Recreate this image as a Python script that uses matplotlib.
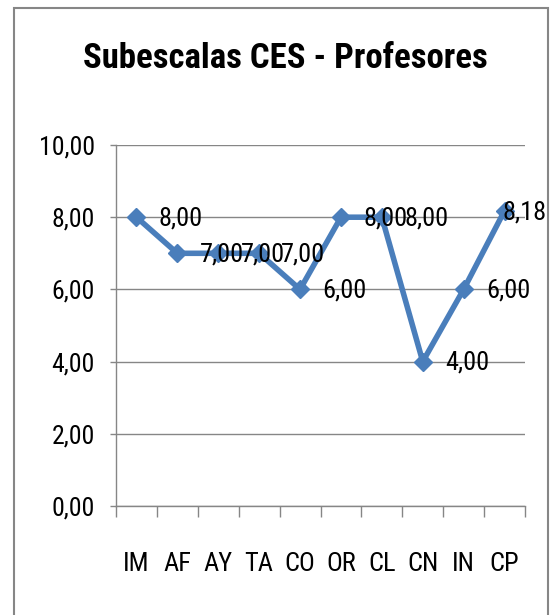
import numpy as np
import matplotlib
matplotlib.use('Agg')
import matplotlib.pyplot as plt
from matplotlib import font_manager
from matplotlib.patches import Rectangle

# data
categories = ['IM', 'AF', 'AY', 'TA', 'CO', 'OR', 'CL', 'CN', 'IN', 'CP']
values = [8.00, 7.00, 7.00, 7.00, 6.00, 8.00, 8.00, 4.00, 6.00, 8.18]
y_ticks = [0, 2, 4, 6, 8, 10]
title = 'Subescalas CES - Profesores'

# pick a narrow font if one is there
names = {f.name for f in font_manager.fontManager.ttflist}
font = 'DejaVu Sans'
for cand in ['Liberation Sans Narrow', 'Roboto Condensed', 'Open Sans Condensed']:
    if cand in names:
        font = cand
        break
plt.rcParams['font.family'] = [font, 'DejaVu Sans']

blue = '#4a7ebb'
gray = '#868686'

W, H = 553, 615
fig = plt.figure(figsize=(W / 100, H / 100), dpi=100)
ax = fig.add_axes([116 / W, 1 - 506 / H, (525 - 116) / W, (506 - 145) / H])

x = np.arange(len(categories))
ax.plot(x, values, color=blue, lw=4, marker='D', ms=9, mfc=blue, mec=blue,
        zorder=3, clip_on=False)

# data labels to the right of each point (last one pulled back inside the chart)
for i, v in enumerate(values):
    dx = 16 if i < len(values) - 1 else -1.5
    ax.annotate(f'{v:.2f}'.replace('.', ','), (x[i], v), xytext=(dx, -1),
                textcoords='offset points', ha='left', va='center',
                fontsize=19, color='black', zorder=4)

ax.set_xlim(-0.5, len(categories) - 0.5)
ax.set_ylim(0, 10)
ax.set_yticks(y_ticks)
ax.set_yticklabels([f'{t:.2f}'.replace('.', ',') for t in y_ticks], fontsize=18.5)
ax.set_xticks(x)
ax.set_xticklabels(categories, fontsize=19)
ax.set_xticks(np.arange(len(categories) + 1) - 0.5, minor=True)

ax.tick_params(axis='x', which='major', length=0, pad=33)
ax.tick_params(axis='x', which='minor', length=8, width=1, color=gray, direction='out')
ax.tick_params(axis='y', length=4.3, width=1, color=gray, pad=11)

ax.grid(axis='y', color=gray, lw=1)
ax.set_axisbelow(True)
for s in ['top', 'right']:
    ax.spines[s].set_visible(False)
for s in ['left', 'bottom']:
    ax.spines[s].set_color(gray)
    ax.spines[s].set_linewidth(1)

fig.text(285 / W, 1 - 58 / H, title, ha='center', va='center',
         fontsize=25, fontweight='bold')

# chart frame (bottom edge is outside the picture)
fig.patches.append(Rectangle((14 / W, -0.05), (548 - 14) / W, 1.05 - 8 / H,
                             transform=fig.transFigure, fill=False,
                             edgecolor=gray, lw=1.5))

fig.savefig('out.png', dpi=100)
